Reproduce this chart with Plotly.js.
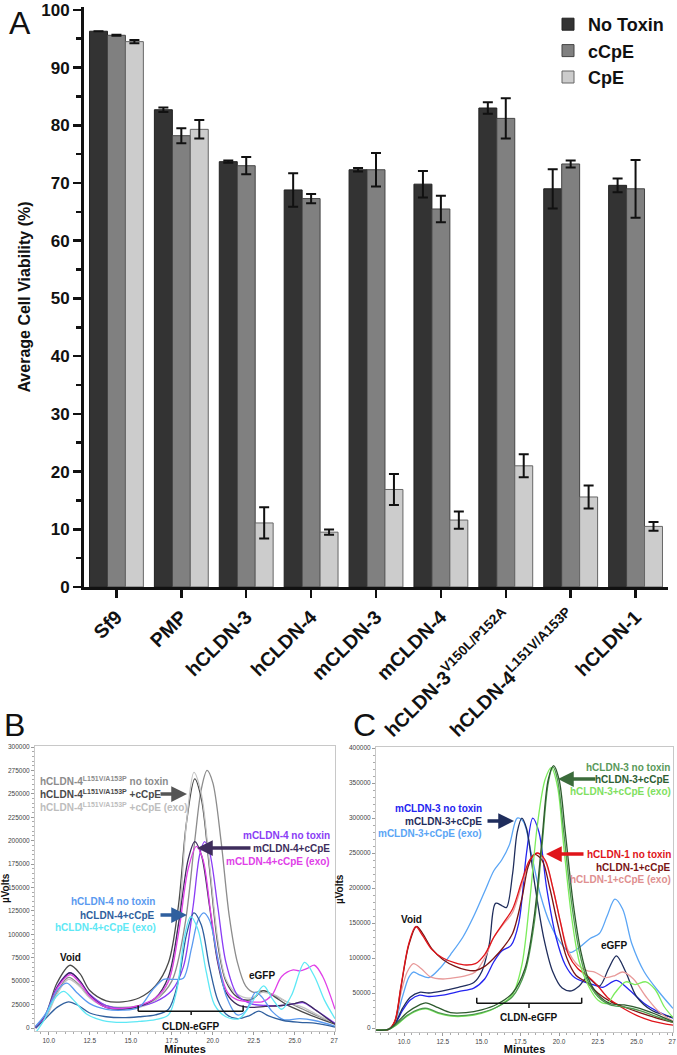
<!DOCTYPE html>
<html>
<head>
<meta charset="utf-8">
<script src="https://cdn.plot.ly/plotly-3.0.1.min.js"></script>
<style>
  html, body { margin: 0; padding: 0; background: #fff; }
  #fig { width: 677px; height: 1055px; }
</style>
</head>
<body>
<div id="fig"></div>
<script>
// ---------- panel A : cell viability ----------
const categories = ["Sf9", "PMP", "hCLDN-3", "hCLDN-4", "mCLDN-3", "mCLDN-4", "hCLDN-3v", "hCLDN-4v", "hCLDN-1"];
const categoryLabels = ["Sf9", "PMP", "hCLDN-3", "hCLDN-4", "mCLDN-3", "mCLDN-4",
    "hCLDN-3<sup>V150L/P152A</sup>", "hCLDN-4<sup>L151V/A153P</sup>", "hCLDN-1"];
const noToxin = [96.3, 82.7, 73.7, 68.8, 72.3, 69.8, 83.0, 69.0, 69.6];
const noToxinErr = [null, 0.4, 0.2, 2.9, 0.3, 2.3, 1.0, 3.4, 1.2];
const cCpE = [95.6, 78.2, 73.0, 67.3, 72.3, 65.5, 81.2, 73.3, 69.0];
const cCpEErr = [0.1, 1.3, 1.5, 0.8, 2.9, 2.3, 3.5, 0.6, 5.0];
const CpE = [94.5, 79.3, 11.1, 9.5, 16.9, 11.6, 21.0, 15.6, 10.5];
const CpEErr = [0.3, 1.6, 2.7, 0.45, 2.7, 1.5, 2.0, 2.0, 0.75];

// ---------- panel B : SEC traces (minutes / microvolts) ----------
const bTicks = [10, 12.5, 15, 17.5, 20, 22.5, 25, 27.4];
const bTickText = ["10.0", "12.5", "15.0", "17.5", "20.0", "22.5", "25.0", "27"];

const bVarNoneT = [9.2, 9.8, 10.5, 11.2, 11.8, 12.5, 13.5, 14.5, 15.5, 16.5, 17.5, 18.3, 18.9, 19.3, 19.65, 20.0, 20.5, 21.0, 21.5, 22.0, 22.5, 23.0, 23.5, 24.5, 25.5, 26.5, 27.45];
const bVarNoneV = [2000, 12000, 38000, 54000, 47000, 33000, 24000, 22000, 24000, 30000, 50000, 110000, 200000, 255000, 275000, 262000, 200000, 120000, 70000, 45000, 38000, 40000, 37000, 28000, 20000, 12000, 5000];
const bVarCpET = [9.2, 9.8, 10.5, 11.3, 11.9, 12.5, 13.5, 14.5, 15.5, 16.5, 17.3, 17.9, 18.4, 18.9, 19.3, 19.8, 20.3, 20.8, 21.5, 22.3, 23.1, 23.8, 24.5, 25.5, 26.5, 27.45];
const bVarCpEV = [1000, 14000, 48000, 67000, 58000, 40000, 29000, 28000, 32000, 45000, 70000, 130000, 220000, 266000, 245000, 170000, 90000, 50000, 33000, 30000, 40000, 33000, 25000, 17000, 10000, 4000];
const bVarExoT = [9.2, 9.8, 10.5, 11.2, 11.9, 12.5, 13.5, 14.5, 15.5, 16.5, 17.3, 17.9, 18.4, 18.85, 19.3, 19.8, 20.3, 20.8, 21.5, 22.3, 23.0, 23.8, 24.5, 25.5, 26.5, 27.45];
const bVarExoV = [0, 10000, 36000, 52000, 44000, 32000, 22000, 20000, 22000, 30000, 50000, 110000, 220000, 273000, 250000, 175000, 95000, 52000, 36000, 32000, 38000, 35000, 28000, 22000, 13000, 5000];

const bM4NoneT = [9.2, 9.8, 10.5, 11.3, 11.9, 12.5, 13.5, 14.5, 15.5, 16.5, 17.5, 18.2, 18.8, 19.2, 19.5, 19.8, 20.3, 20.8, 21.5, 22.3, 23.2, 24.2, 25.0, 25.5, 26.2, 27.45];
const bM4NoneV = [1000, 14000, 44000, 59000, 50000, 36000, 24000, 21000, 23000, 28000, 40000, 65000, 130000, 185000, 199000, 188000, 130000, 70000, 35000, 26000, 24000, 24000, 26000, 27000, 20000, 5000];
const bM4CpET = [9.2, 9.8, 10.5, 11.3, 11.9, 12.5, 13.5, 14.5, 15.5, 16.5, 17.3, 17.9, 18.5, 18.9, 19.3, 19.8, 20.3, 20.8, 21.5, 22.3, 23.2, 24.2, 25.0, 25.5, 26.2, 27.45];
const bM4CpEV = [0, 13000, 43000, 59000, 50000, 35000, 22000, 20000, 23000, 32000, 55000, 110000, 180000, 199000, 185000, 130000, 70000, 38000, 25000, 22000, 23000, 24000, 26000, 28000, 20000, 4000];
const bM4ExoT = [9.2, 9.8, 10.5, 11.3, 11.9, 12.5, 13.5, 14.5, 15.5, 16.5, 17.3, 17.9, 18.5, 19.0, 19.4, 19.9, 20.4, 20.9, 21.5, 22.3, 23.0, 23.6, 24.2, 24.9, 25.3, 25.8, 26.2, 26.7, 27.45];
const bM4ExoV = [0, 12000, 42000, 57000, 48000, 34000, 22000, 21000, 24000, 32000, 50000, 100000, 170000, 194000, 180000, 120000, 65000, 38000, 30000, 28000, 28000, 35000, 55000, 62000, 61000, 64000, 67000, 55000, 20000];

const bH4NoneT = [9.2, 9.8, 10.5, 11.1, 11.7, 12.5, 13.5, 14.5, 15.5, 16.3, 17.0, 17.6, 18.2, 18.7, 19.1, 19.45, 19.8, 20.3, 20.8, 21.5, 22.0, 22.6, 23.0, 23.6, 24.3, 25.3, 26.2, 27.45];
const bH4NoneV = [2000, 15000, 40000, 48000, 38000, 26000, 20000, 19000, 22000, 40000, 52000, 52000, 53000, 85000, 115000, 123000, 115000, 75000, 35000, 14000, 18000, 38000, 33000, 18000, 9000, 10000, 8000, 2000];
const bH4CpET = [9.2, 9.8, 10.5, 11.2, 11.8, 12.5, 13.5, 14.5, 15.5, 16.5, 17.3, 17.9, 18.4, 18.85, 19.3, 19.8, 20.3, 20.8, 21.5, 22.2, 22.8, 23.4, 24.3, 25.3, 26.3, 27.45];
const bH4CpEV = [0, 10000, 22000, 28000, 24000, 16000, 12000, 11000, 12000, 14000, 20000, 50000, 100000, 123000, 110000, 65000, 30000, 15000, 10000, 13000, 18000, 13000, 8000, 6000, 5000, 1000];
const bH4ExoT = [9.2, 9.7, 10.3, 10.9, 11.5, 12.3, 13.3, 14.5, 15.5, 16.5, 17.3, 17.8, 18.3, 18.65, 19.1, 19.6, 20.1, 20.8, 21.6, 22.3, 23.1, 23.6, 24.2, 24.8, 25.6, 26.2, 26.8, 27.45];
const bH4ExoV = [-5000, 8000, 30000, 39000, 30000, 15000, 8000, 6000, 7000, 9000, 14000, 40000, 100000, 119000, 105000, 60000, 25000, 12000, 10000, 25000, 45000, 32000, 20000, 35000, 70000, 55000, 30000, 10000];

const bBracketMin = [15.45, 18.68, 21.85];
const bBracketV = [18000, 24000, 14000];   // line level, end tips, centre tip

// ---------- panel C : SEC traces ----------
const cTicks = [10, 12.5, 15, 17.5, 20, 22.5, 25, 27.3];
const cTickText = ["10.0", "12.5", "15.0", "17.5", "20.0", "22.5", "25.0", "27"];

const cH3NoneT = [8.2, 9.0, 9.5, 10.2, 11.0, 11.5, 12.2, 13.0, 14.0, 15.0, 16.0, 17.0, 17.8, 18.4, 18.9, 19.3, 19.6, 19.9, 20.3, 20.8, 21.3, 21.8, 22.5, 23.3, 24.2, 25.2, 26.2, 27.35];
const cH3NoneV = [-3000, -2000, 5000, 18000, 27000, 28000, 22000, 18000, 18000, 22000, 30000, 45000, 80000, 150000, 260000, 350000, 373000, 355000, 280000, 180000, 110000, 70000, 45000, 33000, 30000, 25000, 17000, 8000];
const cH3CpET = [8.2, 9.0, 9.5, 10.2, 11.0, 11.4, 12.2, 13.0, 14.0, 15.0, 16.0, 17.0, 17.8, 18.4, 18.9, 19.3, 19.65, 20.0, 20.4, 20.9, 21.4, 21.9, 22.5, 23.3, 24.2, 25.2, 26.2, 27.35];
const cH3CpEV = [-3000, -2000, 7000, 22000, 33000, 36000, 29000, 22000, 22000, 26000, 34000, 50000, 85000, 160000, 270000, 355000, 375000, 355000, 280000, 180000, 110000, 70000, 48000, 35000, 33000, 28000, 20000, 9000];
const cH3ExoT = [8.2, 9.0, 9.5, 10.2, 11.0, 11.5, 12.2, 13.0, 14.0, 15.0, 16.0, 17.0, 17.6, 18.1, 18.6, 19.1, 19.5, 19.9, 20.3, 20.8, 21.3, 21.9, 22.5, 23.1, 23.6, 24.3, 24.9, 25.6, 26.2, 26.8, 27.35];
const cH3ExoV = [-3000, -2000, 4000, 17000, 26000, 27000, 21000, 17000, 17000, 21000, 30000, 48000, 90000, 180000, 290000, 355000, 372000, 345000, 260000, 160000, 95000, 60000, 40000, 35000, 50000, 66000, 62000, 66000, 55000, 30000, 15000];

const cM3NoneT = [8.2, 9.0, 9.4, 9.9, 10.4, 11.0, 11.6, 12.5, 13.5, 14.5, 15.2, 15.8, 16.3, 16.9, 17.4, 17.9, 18.3, 18.7, 19.2, 19.8, 20.4, 21.0, 21.6, 22.2, 22.8, 23.7, 24.5, 25.5, 26.5, 27.35];
const cM3NoneV = [-3000, -2000, 5000, 25000, 40000, 47000, 45000, 47000, 52000, 57000, 70000, 95000, 110000, 118000, 150000, 250000, 300000, 280000, 200000, 130000, 90000, 72000, 66000, 62000, 58000, 68000, 55000, 35000, 22000, 14000];
const cM3CpET = [8.2, 9.0, 9.4, 9.9, 10.4, 11.0, 11.6, 12.5, 13.5, 14.5, 15.0, 15.5, 15.9, 16.3, 16.6, 17.0, 17.3, 17.6, 17.9, 18.4, 19.0, 19.6, 20.2, 20.8, 21.3, 21.8, 22.6, 23.2, 23.7, 24.3, 25.0, 26.0, 27.35];
const cM3CpEV = [-3000, -2000, 6000, 28000, 44000, 51000, 50000, 53000, 58000, 65000, 80000, 120000, 178000, 175000, 172000, 220000, 280000, 300000, 285000, 210000, 130000, 80000, 57000, 53000, 60000, 72000, 60000, 85000, 103000, 80000, 45000, 25000, 15000];
const cM3ExoT = [8.2, 9.0, 9.4, 9.9, 10.3, 10.6, 11.0, 11.6, 12.3, 13.0, 13.8, 14.5, 15.2, 15.8, 16.3, 16.8, 17.3, 17.7, 18.2, 18.8, 19.4, 20.0, 20.7, 21.3, 22.0, 22.6, 23.1, 23.6, 24.1, 24.7, 25.5, 26.5, 27.35];
const cM3ExoV = [-3000, -2000, 8000, 45000, 72000, 80000, 76000, 72000, 85000, 105000, 130000, 160000, 195000, 225000, 240000, 262000, 300000, 295000, 250000, 190000, 150000, 125000, 108000, 115000, 128000, 135000, 160000, 184000, 170000, 120000, 80000, 50000, 28000];

const cH1NoneT = [8.2, 9.0, 9.4, 9.8, 10.3, 10.75, 11.2, 11.8, 12.5, 13.3, 14.0, 14.6, 15.2, 15.8, 16.4, 17.0, 17.6, 18.1, 18.6, 19.1, 19.6, 20.1, 20.6, 21.2, 21.8, 22.5, 23.2, 24.0, 25.0, 26.0, 27.35];
const cH1NoneV = [-3000, -2000, 10000, 60000, 120000, 145000, 132000, 112000, 100000, 93000, 90000, 92000, 105000, 130000, 150000, 170000, 210000, 240000, 250000, 240000, 200000, 150000, 105000, 85000, 75000, 60000, 42000, 30000, 18000, 10000, 4000];
const cH1CpET = [8.2, 9.0, 9.4, 9.8, 10.3, 10.8, 11.2, 11.8, 12.5, 13.3, 14.0, 14.6, 15.2, 15.8, 16.4, 17.0, 17.6, 18.0, 18.4, 18.9, 19.4, 19.9, 20.5, 21.1, 21.8, 22.5, 23.3, 24.2, 25.2, 26.2, 27.35];
const cH1CpEV = [-3000, -2000, 9000, 58000, 118000, 145000, 135000, 113000, 98000, 88000, 83000, 82000, 88000, 100000, 115000, 135000, 185000, 230000, 248000, 240000, 200000, 150000, 100000, 75000, 65000, 50000, 38000, 30000, 22000, 15000, 8000];
const cH1ExoT = [8.2, 9.0, 9.4, 9.8, 10.2, 10.6, 11.1, 11.7, 12.5, 13.3, 14.0, 14.6, 15.2, 15.8, 16.4, 17.0, 17.6, 18.1, 18.6, 19.1, 19.6, 20.1, 20.6, 21.2, 21.8, 22.3, 23.0, 23.6, 24.1, 24.8, 25.6, 26.5, 27.35];
const cH1ExoV = [-3000, -2000, 8000, 50000, 80000, 92000, 85000, 73000, 70000, 72000, 75000, 80000, 100000, 130000, 148000, 165000, 205000, 238000, 250000, 238000, 200000, 150000, 110000, 90000, 82000, 80000, 72000, 75000, 80000, 70000, 45000, 22000, 10000];

const cBracketMin = [14.69, 18.06, 21.46];
const cBracketV = [35300, 43300, 28600];

// ---------- helpers ----------
const FONT = "Liberation Sans, Arial, Helvetica, sans-serif";
const px = v => v / 677;
const py = v => 1 - v / 1055;

function bars(name, vals, errs, color, edge) {
    return {
        type: 'bar', name: name, x: categories, y: vals,
        xaxis: 'x', yaxis: 'y',
        marker: { color: color, line: { color: edge, width: 1 } },
        error_y: { type: 'data', array: errs, visible: true, color: '#111', thickness: 2, width: 5 },
        hoverinfo: 'skip'
    };
}

function trace(t, v, color, ax) {
    return {
        type: 'scatter', mode: 'lines', x: t, y: v,
        xaxis: 'x' + ax, yaxis: 'y' + ax, showlegend: false,
        line: { color: color, width: 1.3, shape: 'spline', smoothing: 0.9 },
        hoverinfo: 'skip'
    };
}

function label(text, x, y, color, anchor) {
    return {
        xref: 'paper', yref: 'paper', x: px(x), y: py(y), text: text,
        showarrow: false, xanchor: anchor || 'center', yanchor: 'middle',
        font: { family: FONT, size: 10, color: color, weight: 'bold' }
    };
}

function letter(text, x, y) {
    return {
        xref: 'paper', yref: 'paper', x: px(x), y: py(y), text: text,
        showarrow: false, xanchor: 'center', yanchor: 'middle',
        font: { family: FONT, size: 32, color: '#111' }
    };
}

function arrow(x0, x1, y, color) {
    return {
        xref: 'paper', yref: 'paper', x: px(x1), y: py(y), ax: x0 - x1, ay: 0,
        text: '', showarrow: true, arrowhead: 2, arrowsize: 0.9, arrowwidth: 3.5,
        arrowcolor: color
    };
}

function bracket(mins, vals, xa, ya) {
    var s = [];
    var st = { color: '#111', width: 1.5 };
    s.push({ type: 'line', xref: xa, yref: ya, x0: mins[0], x1: mins[2], y0: vals[0], y1: vals[0], line: st });
    s.push({ type: 'line', xref: xa, yref: ya, x0: mins[0], x1: mins[0], y0: vals[0], y1: vals[1], line: st });
    s.push({ type: 'line', xref: xa, yref: ya, x0: mins[2], x1: mins[2], y0: vals[0], y1: vals[1], line: st });
    s.push({ type: 'line', xref: xa, yref: ya, x0: mins[1], x1: mins[1], y0: vals[0], y1: vals[2], line: st });
    return s;
}

var traces = [
    bars('No Toxin', noToxin, noToxinErr, '#333333', '#222'),
    bars('cCpE', cCpE, cCpEErr, '#808080', '#444'),
    bars('CpE', CpE, CpEErr, '#cccccc', '#666'),

    trace(bVarNoneT, bVarNoneV, '#8c8c8c', 2),
    trace(bVarCpET, bVarCpEV, '#4a4a4a', 2),
    trace(bVarExoT, bVarExoV, '#c4c4c4', 2),
    trace(bM4NoneT, bM4NoneV, '#8a3cf5', 2),
    trace(bM4CpET, bM4CpEV, '#3e2d5c', 2),
    trace(bM4ExoT, bM4ExoV, '#e040e8', 2),
    trace(bH4NoneT, bH4NoneV, '#5a9af0', 2),
    trace(bH4CpET, bH4CpEV, '#2f5f9e', 2),
    trace(bH4ExoT, bH4ExoV, '#5ee8f5', 2),

    trace(cM3ExoT, cM3ExoV, '#5aa5f5', 3),
    trace(cM3NoneT, cM3NoneV, '#2424f0', 3),
    trace(cM3CpET, cM3CpEV, '#1f2d5c', 3),
    trace(cH1ExoT, cH1ExoV, '#e89a9a', 3),
    trace(cH1CpET, cH1CpEV, '#7a1414', 3),
    trace(cH1NoneT, cH1NoneV, '#e0141a', 3),
    trace(cH3ExoT, cH3ExoV, '#7cec5c', 3),
    trace(cH3NoneT, cH3NoneV, '#4e9a4e', 3),
    trace(cH3CpET, cH3CpEV, '#2d5a2d', 3),
];

var secX = {
    showline: true, mirror: true, linecolor: '#c8c8c8', linewidth: 1,
    ticks: 'outside', ticklen: 3, tickcolor: '#999', showgrid: false, zeroline: false,
    tickfont: { family: FONT, size: 6.5, color: '#444' },
    minor: { dtick: 0.5, ticks: 'outside', ticklen: 2, tickcolor: '#aaa' },
    title: { text: 'Minutes', standoff: 3, font: { family: FONT, size: 11, color: '#111', weight: 'bold' } }
};
var secY = {
    showline: true, mirror: true, linecolor: '#c8c8c8', linewidth: 1,
    ticks: 'outside', ticklen: 3, tickcolor: '#999', showgrid: false, zeroline: false,
    tickformat: 'd', tickfont: { family: FONT, size: 6.5, color: '#444' },
    title: { text: 'µVolts', standoff: 3, font: { family: FONT, size: 10, color: '#111', weight: 'bold' } }
};

var layout = {
    width: 677, height: 1055,
    margin: { l: 0, r: 0, t: 0, b: 0 },
    paper_bgcolor: '#fff', plot_bgcolor: 'rgba(0,0,0,0)',
    font: { family: FONT, color: '#111' },
    barmode: 'group', bargap: 0.17, bargroupgap: 0,
    showlegend: true,
    legend: {
        x: px(548), y: py(6), xanchor: 'left', yanchor: 'top',
        bgcolor: 'rgba(0,0,0,0)', font: { family: FONT, size: 18, weight: 'bold', color: '#111' }
    },
    xaxis: {
        domain: [px(84), px(668)], anchor: 'y',
        tickvals: categories, ticktext: categoryLabels, tickangle: -45,
        showline: true, linewidth: 3, linecolor: '#111',
        ticks: 'outside', ticklen: 8, tickwidth: 2.5, tickcolor: '#111',
        tickfont: { family: FONT, size: 19.5, weight: 'bold', color: '#111' }
    },
    yaxis: {
        domain: [py(587), py(7)], anchor: 'x', range: [0, 100.5],
        dtick: 10, showline: true, linewidth: 3, linecolor: '#111',
        ticks: 'outside', ticklen: 8, tickwidth: 2.5, tickcolor: '#111',
        minor: { dtick: 5, ticks: 'outside', ticklen: 5, tickwidth: 2.5, tickcolor: '#111' },
        showgrid: false, zeroline: false,
        tickfont: { family: FONT, size: 17, weight: 'bold', color: '#111' },
        title: { text: 'Average Cell Viability (%)', standoff: 7, font: { family: FONT, size: 16, weight: 'bold', color: '#111' } }
    },
    xaxis2: Object.assign({}, secX, { domain: [px(35), px(335)], anchor: 'y2', range: [9.16, 27.45], tickvals: bTicks, ticktext: bTickText }),
    yaxis2: Object.assign({}, secY, { domain: [py(1031), py(745.7)], anchor: 'x2', range: [-3200, 301400], dtick: 25000,
        minor: { dtick: 5000, ticks: 'outside', ticklen: 2, tickcolor: '#aaa' } }),
    xaxis3: Object.assign({}, secX, { domain: [px(376), px(673)], anchor: 'y3', range: [8.19, 27.35], tickvals: cTicks, ticktext: cTickText }),
    yaxis3: Object.assign({}, secY, { domain: [py(1032), py(746.7)], anchor: 'x3', range: [-5700, 401900], dtick: 50000,
        minor: { dtick: 10000, ticks: 'outside', ticklen: 2, tickcolor: '#aaa' } }),
    shapes: bracket(bBracketMin, bBracketV, 'x2', 'y2').concat(bracket(cBracketMin, cBracketV, 'x3', 'y3')),
    annotations: [
        // panel letters
        letter('A', 20, 23),
        letter('B', 14, 725),
        letter('C', 364, 725),

        // panel B labels
        label('hCLDN-4<sup>L151V/A153P</sup> no toxin', 38, 781, '#8c8c8c', 'left'),
        label('hCLDN-4<sup>L151V/A153P</sup> +cCpE', 38, 794, '#4a4a4a', 'left'),
        label('hCLDN-4<sup>L151V/A153P</sup> +cCpE (exo)', 38, 807, '#bdbdbd', 'left'),
        arrow(159, 187, 794, '#555'),
        label('mCLDN-4 no toxin', 332, 835, '#8a3cf5', 'right'),
        label('mCLDN-4+cCpE', 332, 848, '#3e2d5c', 'right'),
        label('mCLDN-4+cCpE (exo)', 332, 861, '#e040e8', 'right'),
        arrow(252, 197, 848, '#3e2d5c'),
        label('hCLDN-4 no toxin', 157, 902, '#5a9af0', 'right'),
        label('hCLDN-4+cCpE', 157, 915, '#2f5f9e', 'right'),
        label('hCLDN-4+cCpE (exo)', 158, 927, '#5ee8f5', 'right'),
        arrow(159, 187, 915, '#2f5f9e'),
        label('Void', 70, 957, '#111'),
        label('eGFP', 262, 975, '#111'),
        label('CLDN-eGFP', 191, 1026, '#111'),

        // panel C labels
        label('hCLDN-3 no toxin', 672, 767, '#5a9a5a', 'right'),
        label('hCLDN-3+cCpE', 672, 779, '#2e5e33', 'right'),
        label('hCLDN-3+cCpE (exo)', 673, 791, '#80e060', 'right'),
        arrow(597, 558, 779, '#3b6b3b'),
        label('mCLDN-3 no toxin', 484, 808, '#2424f0', 'right'),
        label('mCLDN-3+cCpE', 484, 821, '#1f2d5c', 'right'),
        label('mCLDN-3+cCpE (exo)', 484, 833, '#5aa5f5', 'right'),
        arrow(486, 514, 821, '#1f2d5c'),
        label('hCLDN-1 no toxin', 673, 854, '#e0141a', 'right'),
        label('hCLDN-1+cCpE', 673, 867, '#7a1414', 'right'),
        label('hCLDN-1+cCpE (exo)', 673, 879, '#e09090', 'right'),
        arrow(585, 546, 854, '#e0141a'),
        label('Void', 411, 919, '#111'),
        label('eGFP', 614, 945, '#111'),
        label('CLDN-eGFP', 529, 1017, '#111'),
    ]
};

Plotly.newPlot('fig', traces, layout, { staticPlot: true, displayModeBar: false });
</script>
</body>
</html>
